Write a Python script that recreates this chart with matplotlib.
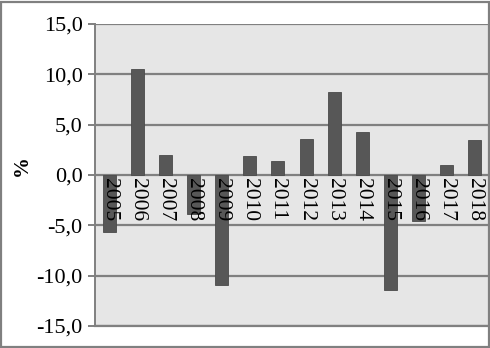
import matplotlib.pyplot as plt
import numpy as np
from matplotlib.patches import Rectangle

plt.rcParams['font.family'] = ['Liberation Serif', 'DejaVu Serif']

years = ['2005', '2006', '2007', '2008', '2009', '2010', '2011',
         '2012', '2013', '2014', '2015', '2016', '2017', '2018']
values = [-5.7, 10.5, 2.0, -3.9, -10.9, 1.9, 1.4,
          3.6, 8.2, 4.3, -11.4, -4.6, 1.0, 3.5]
yticks = [-15, -10, -5, 0, 5, 10, 15]

fig = plt.figure(figsize=(4.9, 3.48), dpi=100)
ax = fig.add_axes([95 / 490, 22 / 348, 394 / 490, 302 / 348])
ax.set_facecolor('#e6e6e6')

x = np.arange(len(years))
ax.bar(x, values, width=0.46, color='#575757', edgecolor='#4a4a4a',
       linewidth=0.6, zorder=3)

# year labels sit just under the zero line, read top to bottom
for xi, yr in zip(x, years):
    ax.text(xi, -0.25, yr, rotation=270, ha='center', va='top',
            fontsize=15.5, color='black', zorder=4)

ax.set_xlim(-0.5, len(years) - 0.5)
ax.set_ylim(-15, 15)
ax.set_yticks(yticks)
ax.set_yticklabels([f'{t:.1f}'.replace('.', ',') for t in yticks], fontsize=16)
ax.set_xticks([])
ax.yaxis.grid(True, color='#808080', linewidth=1.6, zorder=1)
ax.tick_params(axis='y', length=5, width=1.4, color='#808080', pad=4)

for side in ['top', 'right']:
    ax.spines[side].set_visible(False)
ax.spines['left'].set_color('#808080')
ax.spines['left'].set_linewidth(1.4)
ax.spines['bottom'].set_color('#808080')
ax.spines['bottom'].set_linewidth(1.6)

ax.set_ylabel('%', fontsize=15, fontweight='bold')
ax.yaxis.set_label_coords(-0.16, 0.53)

fig.patches.append(Rectangle((0.003, 0.004), 0.994, 0.99, transform=fig.transFigure,
                             fill=False, edgecolor='#808080', linewidth=1.6))

fig.savefig('out.png', dpi=100)
